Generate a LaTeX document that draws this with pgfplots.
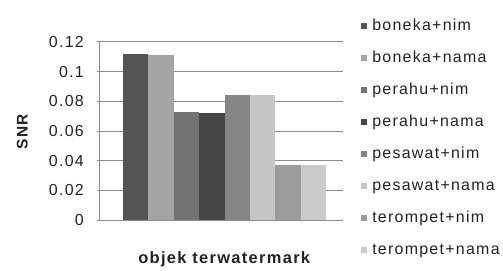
\documentclass[border=0pt]{standalone}
\usepackage{pgfplots}
\pgfplotsset{compat=1.18}
\usepackage{fontspec}
\setmainfont[LetterSpace=8]{Liberation Sans}
\definecolor{c1}{HTML}{545454}
\definecolor{c2}{HTML}{A4A4A4}
\definecolor{c3}{HTML}{737373}
\definecolor{c4}{HTML}{464646}
\definecolor{c5}{HTML}{858585}
\definecolor{c6}{HTML}{C6C6C6}
\definecolor{c7}{HTML}{9C9C9C}
\definecolor{c8}{HTML}{CBCBCB}
\definecolor{gridc}{HTML}{8C8C8C}
\definecolor{txt}{HTML}{222222}
\begin{document}
\fontsize{16}{18}\selectfont
\begin{tikzpicture}
\useasboundingbox (-100bp,-51bp) rectangle (403bp,220bp);
\begin{axis}[
  at={(0,0)}, anchor=south west,
  scale only axis, width=243bp, height=178bp,
  xmin=-1.025, xmax=0.975, ymin=0, ymax=0.12,
  ytick={0,0.02,0.04,0.06,0.08,0.1,0.12},
  yticklabels={0,0.02,0.04,0.06,0.08,0.1,0.12},
  xtick=\empty,
  axis x line*=bottom, axis y line*=left,
  axis line style={gridc, line width=1bp},
  ymajorgrids, grid style={gridc, line width=1bp},
  major tick length=3bp, tick align=outside, tick style={gridc, line width=1bp},
  yticklabel style={font=\fontsize{16}{18}\selectfont, text=txt, inner sep=0pt, xshift=-13bp},
  /pgf/number format/assume math mode=true,
  ybar=0pt, bar width=25.4bp,
  ylabel={\textbf{SNR}},
  ylabel style={at={(axis description cs:-0.296,0.5)}, anchor=south, font=\fontsize{15.5}{17}\selectfont, text=txt, inner sep=0pt},
  xlabel={\textbf{objek terwatermark}},
  xlabel style={at={(axis description cs:0.514,-0.219)}, anchor=center, font=\fontsize{16.5}{18}\selectfont, text=txt, inner sep=0pt},
  legend style={at={(axis description cs:1.062,1.135)}, anchor=north west, draw=none, fill=none,
    font=\fontsize{16}{18}\selectfont, text=txt,
    nodes={inner sep=0pt, text height=10bp, text depth=2bp},
    row sep=20bp, column sep=5bp, legend cell align=left},
  legend image code/.code={\fill[#1] (0bp,-3bp) rectangle (6bp,3bp);},
]
\addplot[fill=c1, draw=none] coordinates {(0,0.112)};
\addplot[fill=c2, draw=none] coordinates {(0,0.111)};
\addplot[fill=c3, draw=none] coordinates {(0,0.073)};
\addplot[fill=c4, draw=none] coordinates {(0,0.072)};
\addplot[fill=c5, draw=none] coordinates {(0,0.084)};
\addplot[fill=c6, draw=none] coordinates {(0,0.084)};
\addplot[fill=c7, draw=none] coordinates {(0,0.037)};
\addplot[fill=c8, draw=none] coordinates {(0,0.037)};
\legend{boneka+nim,boneka+nama,perahu+nim,perahu+nama,pesawat+nim,pesawat+nama,terompet+nim,terompet+nama}
\end{axis}
\end{tikzpicture}
\end{document}
